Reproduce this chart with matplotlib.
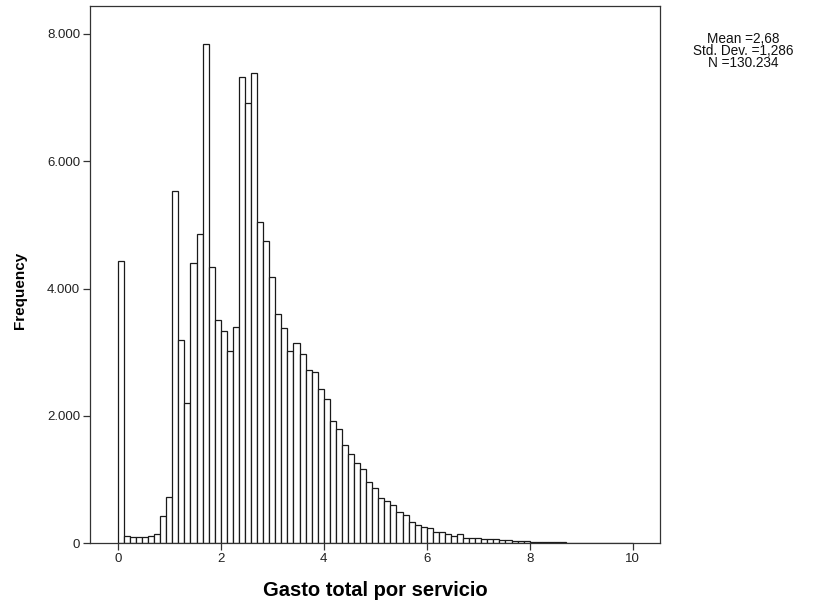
import numpy as np
import matplotlib
matplotlib.use("Agg")
import matplotlib.pyplot as plt
from matplotlib.ticker import FuncFormatter

# Histogram of total spend per service: 85 equal-width bins over [0, 10]
bin_count = 85
x_min, x_max = 0.0, 10.0

frequencies = [
    4436, 121, 96, 96, 100, 110, 148, 429, 732, 5535,
    3184, 2207, 4394, 4856, 7843, 4330, 3502, 3333, 3014, 3396,
    7320, 6912, 7377, 5040, 4740, 4180, 3606, 3384, 3025, 3145,
    2972, 2717, 2688, 2427, 2269, 1925, 1802, 1541, 1408, 1262,
    1162, 956, 863, 711, 665, 601, 496, 444, 339, 287,
    261, 235, 182, 182, 146, 119, 146, 85, 80, 78,
    72, 68, 62, 55, 48, 40, 35, 30, 26, 22,
    20, 18, 15, 14, 12, 11, 10, 9, 8, 7,
    7, 6, 5, 5, 5,
]

x_ticks = [0, 2, 4, 6, 8, 10]
y_ticks = [0, 2000, 4000, 6000, 8000]
stats_lines = ["Mean =2,68", "Std. Dev. =1,286", "N =130.234"]

x_label = "Gasto total por servicio"
y_label = "Frequency"

plt.rcParams["font.family"] = ["Liberation Sans", "DejaVu Sans"]

edges = np.linspace(x_min, x_max, bin_count + 1)
centers = (edges[:-1] + edges[1:]) / 2

W, H = 830, 606
fig = plt.figure(figsize=(W / 100, H / 100), dpi=100)
fig.patch.set_facecolor("white")

left, right, top, bottom = 90, 660, 5.7, 543.3
ax = fig.add_axes([left / W, 1 - bottom / H, (right - left) / W, (bottom - top) / H])

ax.hist(centers, bins=edges, weights=frequencies,
        facecolor="white", edgecolor="#1a1a1a", linewidth=0.9)

ax.set_xlim(-0.54, 10.53)
ax.set_ylim(0, 8440)
ax.set_xticks(x_ticks)
ax.set_yticks(y_ticks)
ax.yaxis.set_major_formatter(
    FuncFormatter(lambda v, _: f"{int(round(v)):,}".replace(",", ".")))

for side in ["left", "bottom", "top", "right"]:
    ax.spines[side].set_color("#333333")
    ax.spines[side].set_linewidth(0.9)

ax.tick_params(axis="both", direction="out", length=5, width=0.9,
               color="#333333", labelsize=9.5, labelcolor="#222222", pad=2)

fig.text((left + right) / 2 / W, 1 - 591 / H, x_label,
         ha="center", va="center", fontsize=14.5, fontweight="bold")
fig.text(20 / W, 1 - 290 / H, y_label, rotation=90,
         ha="center", va="center", fontsize=11, fontweight="bold")

# Summary statistics block, lines centred on one another
fig.text(743 / W, 1 - 51 / H, "\n".join(stats_lines),
         ha="center", va="center", multialignment="center",
         fontsize=9.8, linespacing=0.8, color="#111111")

fig.savefig("out.png", dpi=100, facecolor="white")
